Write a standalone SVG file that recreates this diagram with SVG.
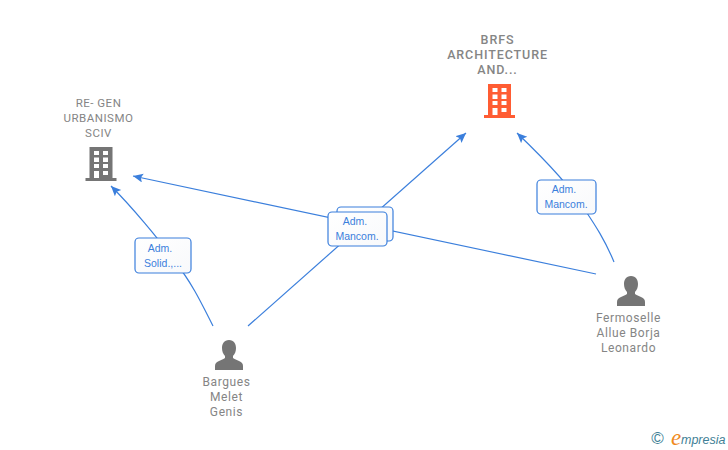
<svg xmlns="http://www.w3.org/2000/svg" width="728" height="450" viewBox="0 0 728 450">
<defs>
<marker id="arrow" markerUnits="userSpaceOnUse" markerWidth="12" markerHeight="10" refX="10" refY="4.5" orient="auto"><path d="M0 0L10 4.5L0 9L2 4.5Z" fill="#3b7fdc"/></marker>
<linearGradient id="lab" x1="0" y1="0" x2="1" y2="1"><stop offset="0" stop-color="#ffffff"/><stop offset="1" stop-color="#f8f9fb"/></linearGradient>
<path id="bld" fill-rule="evenodd" d="M-11.500-17H11.500V14H15.500V17H-15.500V14H-11.500ZM-7-13V-9H-2V-13ZM2-13V-9H7V-13ZM-7-6.500V-2H-2V-6.500ZM2-6.500V-2H7V-6.500ZM-7 0V4H-2V0ZM2 0V4H7V0ZM-7 7V14H-2V7ZM2 7V11H7V7Z"/>
<path id="person" d="M0-15C-5-15-7-11-7-7C-7-4-6-1-4 1L-4 3C-8 6-14 6-14 11V15H14V11C14 6 8 6 4 3L4 1C6-1 7-4 7-7C7-11 5-15 0-15Z" fill="#757575"/>
</defs>
<style>
.n{font:11.500px "Roboto","Liberation Sans",sans-serif;fill:#858585;text-anchor:middle;letter-spacing:.5px}
.p{font:12px "Roboto","Liberation Sans",sans-serif;fill:#858585;text-anchor:middle;letter-spacing:.6px}
.b{font:500 12.500px "Roboto","Liberation Sans",sans-serif;fill:#858585;text-anchor:middle;letter-spacing:.9px}
.l{font:10.500px "Liberation Sans",Arial,sans-serif;fill:#3b7fdc;text-anchor:middle}
.c{fill:none;stroke:#3b7fdc;stroke-width:1.200}
.r{fill:url(#lab);stroke:#3b7fdc;stroke-width:1.200}
</style>
<g id="connectors">
<path class="c" marker-end="url(#arrow)" d="M213 326C200 300 190 280 175 262C160 240 130 205 111 186"/>
<path class="c" marker-end="url(#arrow)" d="M248 326L466 133"/>
<path class="c" marker-end="url(#arrow)" d="M596 274L133 176"/>
<path class="c" marker-end="url(#arrow)" d="M614 262C605 240 595 225 585 210C570 185 540 155 517 133"/>
</g>
<g id="edge-labels">
<rect class="r" x="337" y="207" width="56" height="34" rx="4"/>
<g><rect class="r" x="328" y="212" width="59" height="34" rx="4"/><text class="l" x="355" y="225">Adm.</text><text class="l" x="357" y="240">Mancom.</text></g>
<g><rect class="r" x="135" y="238" width="56" height="35" rx="4"/><text class="l" x="160" y="252">Adm.</text><text class="l" x="163" y="267">Solid.,...</text></g>
<g><rect class="r" x="537" y="180" width="59" height="34" rx="4"/><text class="l" x="564" y="193">Adm.</text><text class="l" x="566" y="208">Mancom.</text></g>
</g>
<g id="node-brfs"><text class="b" x="497.500" y="44">BRFS</text><text class="b" x="497.500" y="59">ARCHITECTURE</text><text class="b" x="497.500" y="74">AND...</text><use href="#bld" x="499.500" y="101" fill="#ff5c33"/></g>
<g id="node-regen"><text class="n" x="98.500" y="107">RE- GEN</text><text class="n" x="98.500" y="122">URBANISMO</text><text class="n" x="98.500" y="137">SCIV</text><use href="#bld" x="101" y="164" fill="#757575"/></g>
<g id="node-bargues"><use href="#person" x="229" y="355"/><text class="p" x="226.500" y="386">Bargues</text><text class="p" x="226.500" y="401">Melet</text><text class="p" x="226.500" y="416">Genis</text></g>
<g id="node-fermoselle"><use href="#person" x="631" y="291"/><text class="p" x="628.500" y="322">Fermoselle</text><text class="p" x="628.500" y="337">Allue Borja</text><text class="p" x="628.500" y="352">Leonardo</text></g>
<g id="logo">
<text x="657.500" y="444" font-family="Liberation Sans,sans-serif" font-size="17" fill="#3f7f96" text-anchor="middle">©</text>
<text x="671" y="445" font-family="Liberation Serif,serif" font-style="italic" font-size="23" fill="#f08a1d">e</text>
<text x="681" y="444" font-family="Liberation Sans,sans-serif" font-style="italic" font-size="12.500" fill="#3f7f96">mpresia</text>
</g>
</svg>
